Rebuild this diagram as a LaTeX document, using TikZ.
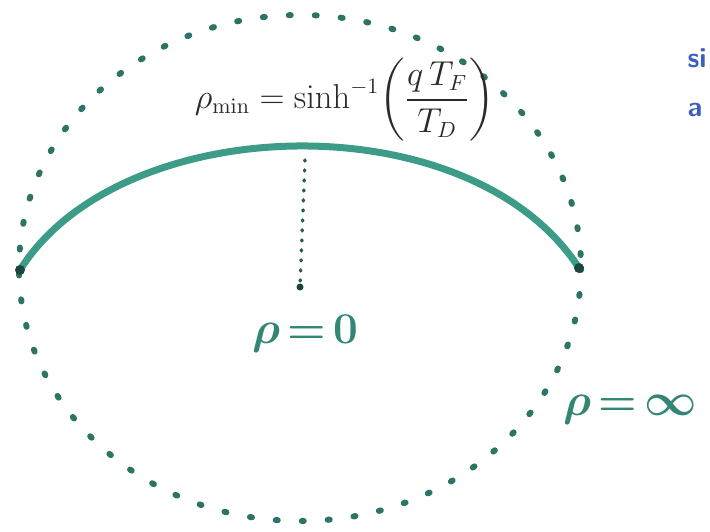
\documentclass[tikz,border=0pt]{standalone}
\usepackage{amsmath}
\usepackage{graphicx}
\definecolor{dotteal}{HTML}{2E7466}
\definecolor{arcteal}{HTML}{3C9C88}
\definecolor{inkblue}{HTML}{3B5FC0}
\definecolor{ink}{HTML}{2A2A2A}
\begin{document}
\begin{tikzpicture}[x=1pt,y=-1pt,
  dotline/.style={draw=dotteal,line width=6pt,line cap=round,dash pattern=on 2pt off 24pt},
  smalldots/.style={draw=dotteal!80!black,line width=3.5pt,line cap=round,dash pattern=on 1pt off 9pt},
  arcline/.style={draw=arcteal,line width=7pt,line cap=round},
  enddot/.style={fill=dotteal!60!black,draw=none},
  tealtext/.style={text=arcteal!85!black,font=\fontsize{20}{24}\selectfont\bfseries},
  formula/.style={text=ink,font=\fontsize{16}{19}\selectfont},
  bluetext/.style={text=inkblue,font=\fontsize{28}{34}\selectfont\sffamily\bfseries,anchor=west}]
\useasboundingbox (0,0) rectangle (710,531);
\coordinate (C) at (300,268);
\draw[dotline] (C) ellipse [x radius=281, y radius=253];
\coordinate (L) at (20,270);
\coordinate (R) at (579,268);
\coordinate (top) at (305,160);
\coordinate (bot) at (300,287);
\draw[arcline] (L) .. controls (120,110) and (470,100) .. (R);
\fill[enddot] (L) circle (5pt);
\fill[enddot] (R) circle (5pt);
\draw[smalldots] (top) -- (bot);
\fill[enddot] (bot) circle (3.5pt);
\node[formula] (f) at (345,100) {\scalebox{2}{$\rho_{\mathrm{min}} = \sinh^{-1}\!\left(\dfrac{q\,T_F}{T_D}\right)$}};
\node[tealtext] (z) at (305,333) {\scalebox{2.2}{$\boldsymbol{\rho}$\,=\,0}};
\node[tealtext] (inf) at (630,410) {\scalebox{2.2}{$\boldsymbol{\rho}$\,=\,$\boldsymbol{\infty}$}};
\node[bluetext] (s) at (684,58) {si};
\node[bluetext] (a) at (684,110) {a};
\end{tikzpicture}
\end{document}
